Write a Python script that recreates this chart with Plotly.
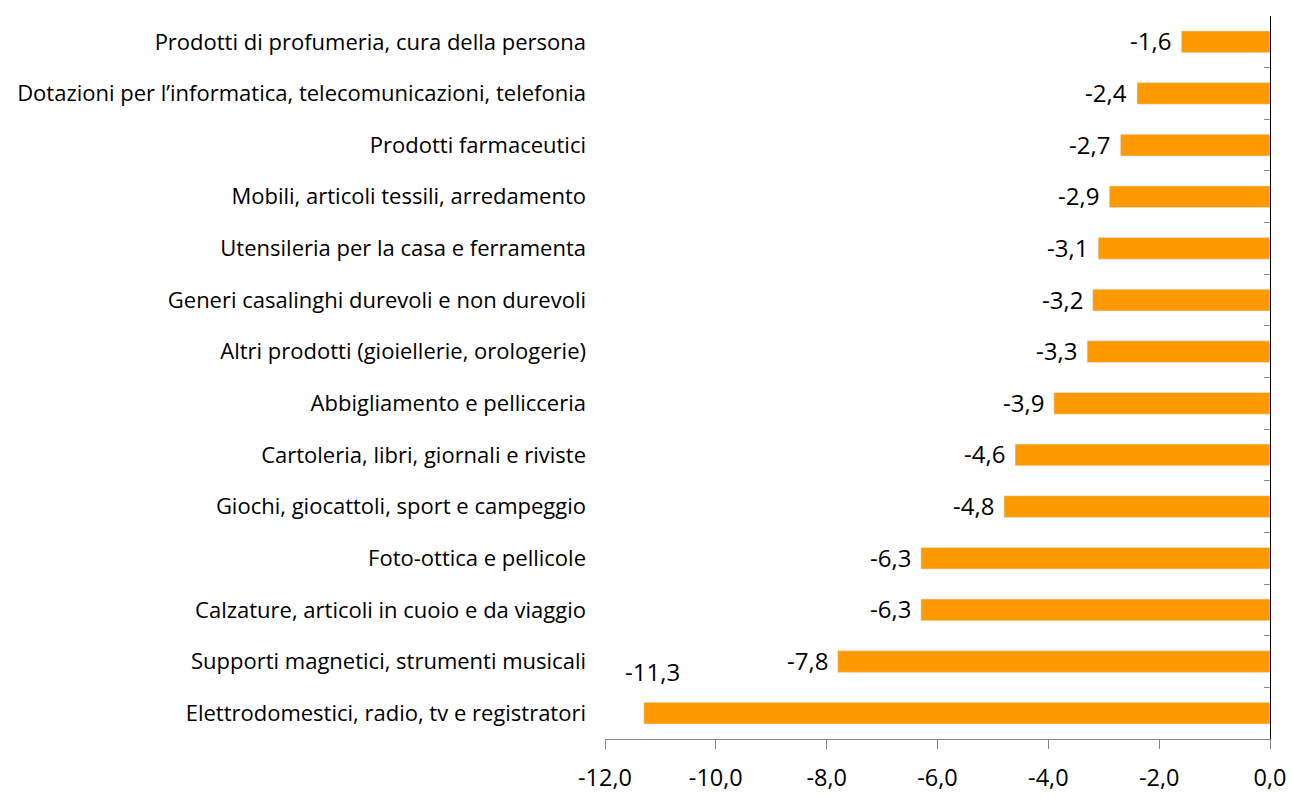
import plotly.graph_objects as go

categories = [
    "Prodotti di profumeria, cura della persona",
    "Dotazioni per l\u2019informatica, telecomunicazioni, telefonia",
    "Prodotti farmaceutici",
    "Mobili, articoli tessili, arredamento",
    "Utensileria per la casa e ferramenta",
    "Generi casalinghi durevoli e non durevoli",
    "Altri prodotti (gioiellerie, orologerie)",
    "Abbigliamento e pellicceria",
    "Cartoleria, libri, giornali e riviste",
    "Giochi, giocattoli, sport e campeggio",
    "Foto-ottica e pellicole",
    "Calzature, articoli in cuoio e da viaggio",
    "Supporti magnetici, strumenti musicali",
    "Elettrodomestici, radio, tv e registratori",
]
values = [-1.6, -2.4, -2.7, -2.9, -3.1, -3.2, -3.3, -3.9, -4.6, -4.8, -6.3, -6.3, -7.8, -11.3]
x_ticks = [-12, -10, -8, -6, -4, -2, 0]

FONT = "Open Sans"
orange = "#FF9900"
grey = "#868686"


def fmt(v):
    return f"{v:.1f}".replace(".", ",")


fig = go.Figure()
fig.add_trace(go.Bar(x=values, y=categories, orientation="h", marker_color=orange,
                     width=0.42, yaxis="y", hoverinfo="skip"))
# invisible copy to drive the right-hand axis (line + boundary ticks)
fig.add_trace(go.Bar(x=values, y=categories, orientation="h", opacity=0,
                     width=0.42, yaxis="y2", hoverinfo="skip", showlegend=False))

# value labels
for c, v in zip(categories, values):
    if v < -11:
        fig.add_annotation(x=v, y=c, text=fmt(v), showarrow=False, xanchor="center",
                           xshift=9, yshift=42, font=dict(size=24, color="black", family=FONT))
    else:
        fig.add_annotation(x=v, y=c, text=fmt(v), showarrow=False, xanchor="right",
                           xshift=-8, yshift=1, font=dict(size=24, color="black", family=FONT))

fig.update_layout(
    width=1291, height=797,
    margin=dict(l=605, r=21, t=16, b=58),
    plot_bgcolor="white", paper_bgcolor="white",
    showlegend=False,
    barmode="overlay",
    font=dict(family=FONT, color="black"),
    xaxis=dict(range=[-12, 0], tickvals=x_ticks, ticktext=[fmt(t) for t in x_ticks],
               showgrid=False, automargin=False,
               zeroline=False, showline=True, linecolor=grey, linewidth=1,
               ticks="outside", ticklen=9, tickcolor=grey, ticklabelstandoff=9,
               tickfont=dict(size=23.5, family=FONT, color="black")),
    yaxis=dict(categoryorder="array", categoryarray=categories[::-1], automargin=False,
               showline=False, ticks="", showgrid=False,
               ticklabelstandoff=18, tickfont=dict(size=22, family=FONT, color="black")),
    yaxis2=dict(overlaying="y", side="right", anchor="x", matches="y", automargin=False,
                categoryorder="array", categoryarray=categories[::-1],
                showline=True, linecolor="black", linewidth=1,
                ticks="inside", tickson="boundaries", ticklen=6, tickcolor=grey,
                showticklabels=False, showgrid=False),
)

# drop the default page margin so the figure fills the window exactly
fig.write_html("out.html", config={"displayModeBar": False},
               post_script="document.body.style.margin='0';")
